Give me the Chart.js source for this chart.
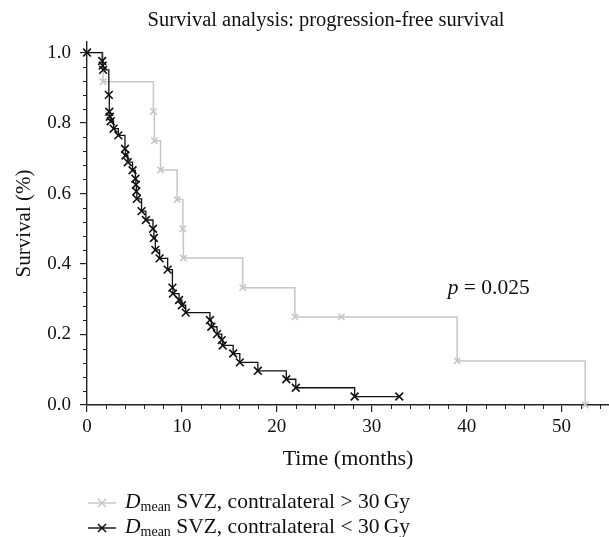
<!DOCTYPE html>
<html>
<head>
<meta charset="utf-8">
<script src="https://cdn.jsdelivr.net/npm/chart.js@4.4.0/dist/chart.umd.min.js"></script>
<style>
    body { margin: 0; background: #fff; }
    #wrap { position: relative; width: 609px; height: 537px; }
    #legend {
        position: absolute; left: 87px; top: 489px;
        font-family: 'Liberation Serif', 'DejaVu Serif', serif; font-size: 21.5px; color: #111;
    }
    .legend-row { height: 25px; line-height: 25px; white-space: nowrap; }
    .legend-row svg { vertical-align: middle; margin-right: 8px; }
    .legend-row sub { font-size: 14px; vertical-align: -3px; line-height: 0; }
</style>
</head>
<body>
<div id="wrap">
    <canvas id="chart" width="609" height="537"></canvas>
    <div id="legend"></div>
</div>
<script>
// Kaplan-Meier steps
const greyTime = [0, 1.7, 7.0, 7.1, 7.75, 9.5, 10.1, 10.15, 16.4, 21.9, 26.8, 39.0, 52.5];
const greySurv = [1.0, 0.917, 0.833, 0.75, 0.667, 0.583, 0.5, 0.417, 0.333, 0.25, 0.25, 0.125, 0.0];

const blackTime = [0, 1.6, 1.65, 1.7, 2.3, 2.35, 2.4, 2.5, 2.8, 3.3, 4.0, 4.05, 4.3, 4.8, 5.1, 5.15, 5.2, 5.25,
    5.75, 6.2, 6.95, 7.05, 7.2, 7.65, 8.5, 9.0, 9.05, 9.7, 10.0, 10.4, 12.95, 13.1, 13.7, 14.2, 14.3,
    15.4, 16.1, 18.0, 21.0, 22.0, 28.2, 32.9];
const blackSurv = [1.0, 0.976, 0.963, 0.951, 0.88, 0.832, 0.818, 0.805, 0.784, 0.765, 0.727, 0.708, 0.689, 0.666, 0.642, 0.625, 0.606, 0.585,
    0.55, 0.525, 0.5, 0.474, 0.44, 0.416, 0.384, 0.333, 0.316, 0.298, 0.283, 0.262, 0.241, 0.222, 0.201, 0.184, 0.169,
    0.146, 0.121, 0.097, 0.073, 0.049, 0.024, 0.024];

const xTickValues = [0, 10, 20, 30, 40, 50];
const yTickValues = [0.0, 0.2, 0.4, 0.6, 0.8, 1.0];

const titleText = 'Survival analysis: progression-free survival';
const pText = ' = 0.025';
const legendNames = ['contralateral > 30\u2009Gy', 'contralateral < 30\u2009Gy'];
const greyColor = '#c6c6c6';
const blackColor = '#111111';

const FONT = "'Liberation Serif', 'DejaVu Serif', serif";

function toPoints(ts, ss) {
    return ts.map((t, i) => ({ x: t, y: ss[i] }));
}

// minor tick marks + title + p value
const extras = {
    id: 'extras',
    afterDraw(chart) {
        const ctx = chart.ctx;
        const xs = chart.scales.x;
        const ys = chart.scales.y;
        ctx.save();
        ctx.strokeStyle = '#222';
        ctx.lineWidth = 1;
        ctx.beginPath();
        for (let v = 2; v <= 54; v += 2) {
            if (v % 10 === 0) continue;
            const px = Math.round(xs.getPixelForValue(v)) + 0.5;
            ctx.moveTo(px, ys.bottom);
            ctx.lineTo(px, ys.bottom + 4);
        }
        for (let k = 1; k <= 25; k++) {
            if (k % 5 === 0) continue;
            const py = Math.round(ys.getPixelForValue(k * 0.04)) + 0.5;
            ctx.moveTo(xs.left, py);
            ctx.lineTo(xs.left - 4, py);
        }
        ctx.stroke();

        ctx.fillStyle = '#111';
        ctx.textBaseline = 'middle';
        ctx.textAlign = 'center';
        ctx.font = '20.5px ' + FONT;
        ctx.fillText(titleText, (xs.left + xs.right) / 2 - 22, 21);

        // p value placed in data coordinates
        const px = xs.getPixelForValue(38.0);
        const py = ys.getPixelForValue(0.33);
        ctx.textAlign = 'left';
        ctx.font = 'italic 21.5px ' + FONT;
        ctx.fillText('p', px, py);
        const w = ctx.measureText('p').width;
        ctx.font = '21.5px ' + FONT;
        ctx.fillText(pText, px + w, py);
        ctx.restore();
    }
};

new Chart(document.getElementById('chart'), {
    type: 'line',
    data: {
        datasets: [
            {
                label: legendNames[1],
                data: toPoints(blackTime, blackSurv),
                stepped: 'before',
                borderColor: blackColor,
                borderWidth: 1.3,
                pointStyle: 'crossRot',
                pointRadius: 5.5,
                pointBorderWidth: 1.6,
                pointBorderColor: blackColor,
                pointBackgroundColor: blackColor,
                fill: false,
                clip: false,
                order: 0
            },
            {
                label: legendNames[0],
                data: toPoints(greyTime, greySurv),
                stepped: 'before',
                borderColor: greyColor,
                borderWidth: 1.5,
                pointStyle: 'crossRot',
                pointRadius: 4.5,
                pointBorderWidth: 1.5,
                pointBorderColor: greyColor,
                pointBackgroundColor: greyColor,
                fill: false,
                clip: false,
                order: 1
            }
        ]
    },
    options: {
        responsive: false,
        animation: false,
        layout: { autoPadding: false, padding: { top: 42, right: 0, bottom: 62, left: 0 } },
        plugins: {
            legend: { display: false },
            tooltip: { enabled: false },
            title: { display: false }
        },
        scales: {
            x: {
                type: 'linear',
                min: 0,
                max: 55,
                afterFit(scale) { scale.height = 70; },
                afterBuildTicks(scale) { scale.ticks = xTickValues.map(v => ({ value: v })); },
                border: { color: '#222', width: 1.4 },
                grid: { drawOnChartArea: false, color: '#222', tickLength: 7, lineWidth: 1.2 },
                ticks: { color: '#111', font: { family: FONT, size: 19 }, padding: 4 },
                title: { display: true, text: 'Time (months)', color: '#111', font: { family: FONT, size: 22 }, padding: { top: 8, bottom: 3 } }
            },
            y: {
                type: 'linear',
                min: 0,
                max: 1.03,
                afterFit(scale) { scale.width = 87; },
                afterBuildTicks(scale) { scale.ticks = yTickValues.map(v => ({ value: v })); },
                border: { color: '#222', width: 1.4 },
                grid: { drawOnChartArea: false, color: '#222', tickLength: 7, lineWidth: 1.2 },
                ticks: { color: '#111', font: { family: FONT, size: 19 }, padding: 9, callback: v => v.toFixed(1) },
                title: { display: true, text: 'Survival (%)', color: '#111', font: { family: FONT, size: 21 }, padding: { top: 12, bottom: 0 } }
            }
        }
    },
    plugins: [extras]
});

// legend with subscript text
const legendColors = [greyColor, blackColor];
const legendEl = document.getElementById('legend');
legendNames.forEach((name, i) => {
    const row = document.createElement('div');
    row.className = 'legend-row';
    const c = legendColors[i];
    row.innerHTML =
        `<svg width="30" height="14"><line x1="1" y1="7" x2="29" y2="7" stroke="${c}" stroke-width="1.4"/>` +
        `<line x1="11" y1="3" x2="19" y2="11" stroke="${c}" stroke-width="1.6"/>` +
        `<line x1="19" y1="3" x2="11" y2="11" stroke="${c}" stroke-width="1.6"/></svg>` +
        `<i>D</i><sub>mean</sub> SVZ, ${name.replace('<', '&lt;').replace('>', '&gt;')}`;
    legendEl.appendChild(row);
});
</script>
</body>
</html>
